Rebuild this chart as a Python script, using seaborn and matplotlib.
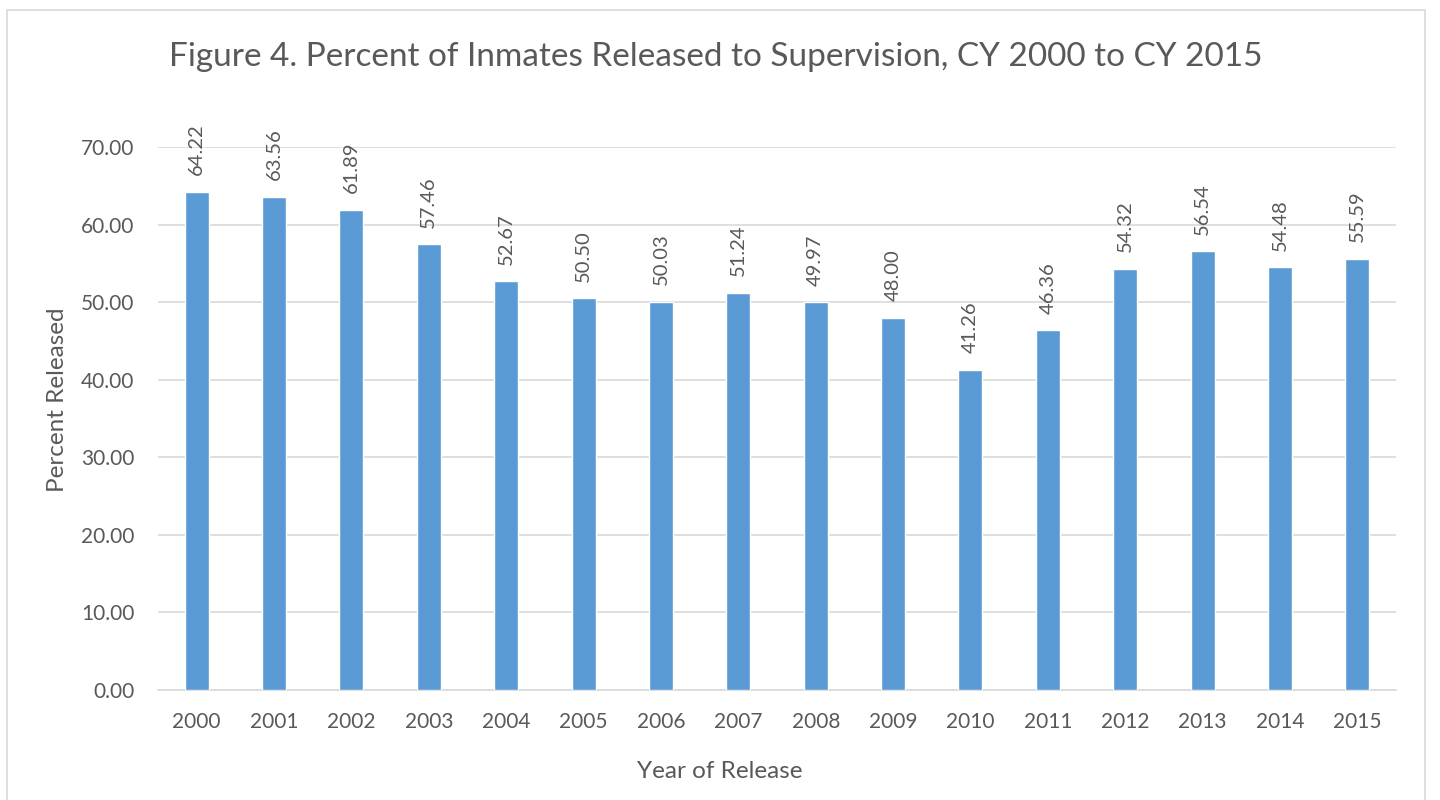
import matplotlib
matplotlib.use("Agg")
import matplotlib.pyplot as plt
from matplotlib.patches import Rectangle
import seaborn as sns
import pandas as pd

years = ["2000", "2001", "2002", "2003", "2004", "2005", "2006", "2007",
         "2008", "2009", "2010", "2011", "2012", "2013", "2014", "2015"]
percent_released = [64.22, 63.56, 61.89, 57.46, 52.67, 50.50, 50.03, 51.24,
                    49.97, 48.00, 41.26, 46.36, 54.32, 56.54, 54.48, 55.59]
y_ticks = [0, 10, 20, 30, 40, 50, 60, 70]

df = pd.DataFrame({"Year": years, "Percent": percent_released})

sns.set_theme(style="white")
plt.rcParams["font.family"] = ["Lato", "DejaVu Sans"]

TEXT = "#595959"
GRID = "#D9D9D9"
BAR = "#5B9BD5"

fig = plt.figure(figsize=(14.4, 8), dpi=100)
ax = fig.add_axes([158 / 1440, 1 - 690 / 800, (1396 - 158) / 1440, (690 - 147) / 800])

sns.barplot(data=df, x="Year", y="Percent", color=BAR, width=0.31,
            saturation=1, ax=ax, zorder=3)

ax.set_ylim(0, 70)
ax.set_xlim(-0.5, len(years) - 0.5)
ax.set_yticks(y_ticks)
ax.set_yticklabels([f"{t:.2f}" for t in y_ticks])
ax.yaxis.grid(True, color=GRID, linewidth=1.2, zorder=0)
ax.xaxis.grid(False)
for side in ["top", "right", "left"]:
    ax.spines[side].set_visible(False)
ax.spines["bottom"].set_color(GRID)
ax.spines["bottom"].set_linewidth(1.2)
ax.tick_params(axis="both", length=0, labelsize=15, labelcolor=TEXT)
ax.tick_params(axis="y", pad=17)
ax.tick_params(axis="x", pad=16)

ax.set_xlabel("Year of Release", fontsize=17.5, color=TEXT)
ax.set_ylabel("Percent Released", fontsize=17.5, color=TEXT)
ax.xaxis.set_label_coords((720 - 158) / 1238, -(772 - 690) / 543)
ax.yaxis.set_label_coords(-(158 - 58) / 1238, (690 - 400) / 543)
ax.xaxis.label.set_va("center")
ax.yaxis.label.set_va("center")

# value labels above each bar, rotated vertically
for i, v in enumerate(percent_released):
    ax.annotate(f"{v:.2f}", xy=(i, v), xytext=(0, 12), textcoords="offset points",
                rotation=90, ha="center", va="bottom", fontsize=14.5, color=TEXT)

fig.text(716 / 1440, 1 - 57 / 800,
         "Figure 4. Percent of Inmates Released to Supervision, CY 2000 to CY 2015",
         ha="center", va="center", fontsize=24, color=TEXT)

# chart frame
fig.patches.append(Rectangle((7 / 1440, -0.01), (1425 - 7) / 1440, 1 - 10 / 800 + 0.01,
                             transform=fig.transFigure, fill=False,
                             edgecolor=GRID, linewidth=1.2))

fig.savefig("out.png", dpi=100, facecolor="white")
